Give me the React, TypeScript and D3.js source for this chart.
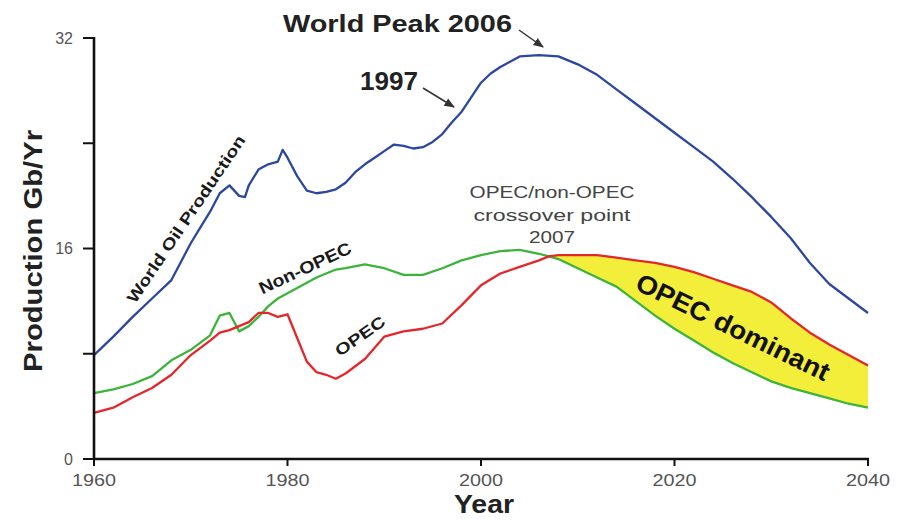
import React from "react";
import * as d3 from "d3";

// ---- data ----
const worldYears = [1960, 1962, 1964, 1966, 1968, 1970, 1971, 1972, 1973, 1974, 1975, 1975.6, 1976, 1977, 1978, 1979, 1979.5, 1980, 1981, 1982, 1983, 1984, 1985, 1986, 1987, 1988, 1989, 1990, 1991, 1992, 1993, 1994, 1995, 1996, 1997, 1998, 1999, 2000, 2001, 2002, 2003, 2004, 2006, 2008, 2010, 2012, 2014, 2016, 2018, 2020, 2022, 2024, 2026, 2028, 2030, 2032, 2034, 2036, 2038, 2040];
const worldValues = [7.9, 9.3, 10.8, 12.2, 13.6, 16.4, 17.6, 18.8, 20.2, 20.8, 20.0, 19.9, 20.8, 22.0, 22.4, 22.6, 23.5, 22.9, 21.5, 20.4, 20.2, 20.3, 20.5, 21.0, 21.8, 22.4, 22.9, 23.4, 23.9, 23.8, 23.6, 23.7, 24.1, 24.7, 25.6, 26.4, 27.5, 28.6, 29.3, 29.8, 30.2, 30.6, 30.7, 30.6, 30.0, 29.2, 28.1, 27.0, 25.9, 24.8, 23.7, 22.6, 21.3, 19.9, 18.4, 16.8, 14.9, 13.3, 12.2, 11.1];

const years = [1960, 1962, 1964, 1966, 1968, 1970, 1972, 1973, 1974, 1975, 1976, 1977, 1978, 1979, 1980, 1981, 1982, 1983, 1984, 1985, 1986, 1988, 1990, 1992, 1994, 1996, 1998, 2000, 2002, 2004, 2006, 2007, 2008, 2010, 2012, 2014, 2016, 2018, 2020, 2022, 2024, 2026, 2028, 2030, 2032, 2034, 2036, 2038, 2040];
const nonOpecValues = [5.0, 5.3, 5.7, 6.3, 7.5, 8.3, 9.4, 10.9, 11.1, 9.7, 10.1, 10.8, 11.6, 12.2, 12.6, 13.0, 13.4, 13.8, 14.1, 14.4, 14.5, 14.8, 14.5, 14.0, 14.0, 14.5, 15.1, 15.5, 15.8, 15.9, 15.6, 15.4, 15.2, 14.5, 13.8, 13.1, 12.0, 10.9, 9.9, 9.0, 8.1, 7.3, 6.6, 5.9, 5.4, 5.0, 4.6, 4.2, 3.9];
const opecValues = [3.5, 3.9, 4.7, 5.4, 6.4, 7.9, 9.0, 9.6, 9.8, 10.1, 10.4, 11.1, 11.1, 10.8, 11.0, 9.2, 7.4, 6.6, 6.4, 6.1, 6.5, 7.6, 9.3, 9.7, 9.9, 10.3, 11.7, 13.2, 14.1, 14.6, 15.1, 15.4, 15.5, 15.5, 15.5, 15.3, 15.1, 14.9, 14.6, 14.2, 13.7, 13.2, 12.7, 11.9, 10.7, 9.6, 8.7, 7.9, 7.1];

const yTicks = [0, 8, 16, 24, 32];
const yTickLabels = ["0", "", "16", "", "32"];
const xTicks = [1960, 1980, 2000, 2020, 2040];

const W = 913;
const H = 522;

export default function App() {
  const x = d3.scaleLinear().domain([1960, 2040]).range([94, 868]);
  const y = d3.scaleLinear().domain([0, 32]).range([459, 38]);

  const world = worldYears.map((yr, i) => ({ yr, v: worldValues[i] }));
  const both = years.map((yr, i) => ({ yr, n: nonOpecValues[i], o: opecValues[i] }));

  const worldLine = d3.line<any>().x((d) => x(d.yr)).y((d) => y(d.v));
  const nonLine = d3.line<any>().x((d) => x(d.yr)).y((d) => y(d.n));
  const opecLine = d3.line<any>().x((d) => x(d.yr)).y((d) => y(d.o));
  const gap = d3
    .area<any>()
    .defined((d) => d.yr >= 2007 && d.o >= d.n - 1e-9)
    .x((d) => x(d.yr))
    .y0((d) => y(d.n))
    .y1((d) => y(d.o));

  const font = "Arial, 'Liberation Sans', Helvetica, sans-serif";

  return (
    <svg
      width={W}
      height={H}
      style={{ position: "absolute", left: 0, top: 0, background: "#fff" }}
      fontFamily={font}
    >
      <defs>
        <marker id="ah" viewBox="0 0 10 10" refX="9" refY="5" markerWidth="7" markerHeight="7" orient="auto">
          <path d="M0,1 L10,5 L0,9 z" fill="#333" />
        </marker>
      </defs>
      <rect width={W} height={H} fill="#fff" />

      {/* yellow OPEC dominant region */}
      <path d={gap(both) || ""} fill="#f3ee3a" />

      {/* lines */}
      <path d={nonLine(both) || ""} fill="none" stroke="#3cb43c" strokeWidth={2.3} strokeLinejoin="round" />
      <path d={opecLine(both) || ""} fill="none" stroke="#e5262b" strokeWidth={2.3} strokeLinejoin="round" />
      <path d={worldLine(world) || ""} fill="none" stroke="#2c47a0" strokeWidth={2.3} strokeLinejoin="round" />

      {/* axes */}
      <line x1={94} x2={94} y1={37} y2={460} stroke="#111" strokeWidth={2.6} />
      <line x1={93} x2={869} y1={459} y2={459} stroke="#111" strokeWidth={2.6} />
      {yTicks.map((t, i) => (
        <g key={"y" + t}>
          <line x1={83} x2={94} y1={y(t)} y2={y(t)} stroke="#111" strokeWidth={2} />
          {yTickLabels[i] && (
            <text x={73} y={y(t)} dy="0.36em" textAnchor="end" fontSize={16} fill="#555">
              {yTickLabels[i]}
            </text>
          )}
        </g>
      ))}
      {xTicks.map((t) => (
        <g key={"x" + t}>
          <line x1={x(t)} x2={x(t)} y1={459} y2={466} stroke="#111" strokeWidth={2} />
          <text x={x(t)} y={486} textAnchor="middle" fontSize={16} fill="#555" textLength={44} lengthAdjust="spacingAndGlyphs">
            {t}
          </text>
        </g>
      ))}

      {/* axis titles */}
      <text x={484} y={513} textAnchor="middle" fontSize={26} fontWeight="bold" fill="#222" textLength={60} lengthAdjust="spacingAndGlyphs">
        Year
      </text>
      <text
        transform="translate(42,251) rotate(-90)"
        textAnchor="middle"
        fontSize={26}
        fontWeight="bold"
        fill="#222"
        textLength={242}
        lengthAdjust="spacingAndGlyphs"
      >
        Production Gb/Yr
      </text>

      {/* annotations */}
      <text x={283} y={32} fontSize={23} fontWeight="bold" fill="#222" textLength={229} lengthAdjust="spacingAndGlyphs">
        World Peak 2006
      </text>
      <line x1={519} y1={30} x2={543} y2={47} stroke="#333" strokeWidth={1.5} markerEnd="url(#ah)" />
      <text x={360} y={90} fontSize={25} fontWeight="bold" fill="#222" textLength={58} lengthAdjust="spacingAndGlyphs">
        1997
      </text>
      <line x1={423} y1={88} x2={454} y2={107} stroke="#333" strokeWidth={1.5} markerEnd="url(#ah)" />

      <text transform="translate(186,219) rotate(-56)" textAnchor="middle" dy="0.35em" fontSize={16} fontWeight="bold" fill="#1a1a1a" textLength={198} lengthAdjust="spacingAndGlyphs">
        World Oil Production
      </text>
      <text transform="translate(305,268) rotate(-25)" textAnchor="middle" dy="0.35em" fontSize={17} fontWeight="bold" fill="#1a1a1a" textLength={100} lengthAdjust="spacingAndGlyphs">
        Non-OPEC
      </text>
      <text transform="translate(360,336) rotate(-35)" textAnchor="middle" dy="0.35em" fontSize={16} fontWeight="bold" fill="#1a1a1a" textLength={57} lengthAdjust="spacingAndGlyphs">
        OPEC
      </text>
      <text transform="translate(733,327) rotate(26)" textAnchor="middle" dy="0.35em" fontSize={26} fontWeight="bold" fill="#111" textLength={212} lengthAdjust="spacingAndGlyphs">
        OPEC dominant
      </text>

      <g fill="#444" fontSize={16} textAnchor="middle">
        <text x={552} y={198} textLength={165} lengthAdjust="spacingAndGlyphs">OPEC/non-OPEC</text>
        <text x={552} y={221} textLength={157} lengthAdjust="spacingAndGlyphs">crossover point</text>
        <text x={552} y={243} textLength={46} lengthAdjust="spacingAndGlyphs">2007</text>
      </g>
    </svg>
  );
}
